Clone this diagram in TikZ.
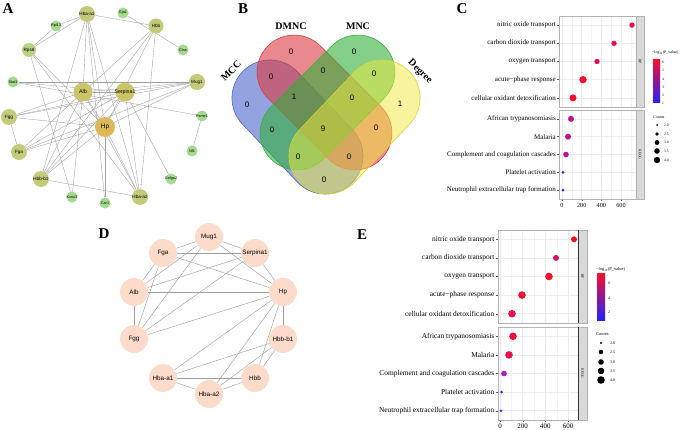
\documentclass[tikz,border=0pt]{standalone}
\usepackage{fontspec}
\setmainfont{Liberation Serif}
\setsansfont{Liberation Sans}
\usetikzlibrary{shapes.misc,backgrounds}

\definecolor{leafgreen}{HTML}{A5DA8E}
\definecolor{olive}{HTML}{C3CB7B}
\definecolor{olivedark}{HTML}{CBC46A}
\definecolor{hpgold}{HTML}{DCB858}
\definecolor{rpsgreen}{HTML}{B9D283}
\definecolor{peach}{HTML}{FCDBCA}
\definecolor{vennblue}{HTML}{4A66CC}
\definecolor{vennred}{HTML}{DB3A42}
\definecolor{venngreen}{HTML}{33B03A}
\definecolor{vennyellow}{HTML}{EFEA3C}
\definecolor{ptred}{HTML}{F80F2C}
\definecolor{ptrose}{HTML}{E8104E}
\definecolor{ptpink}{HTML}{D41068}
\definecolor{ptmag}{HTML}{C0108E}
\definecolor{ptpurple}{HTML}{A41EC4}
\definecolor{ptblue}{HTML}{2222FF}
\definecolor{stripgray}{HTML}{D9D9D9}
\definecolor{gridgray}{HTML}{EBEBEB}
\definecolor{edgegray}{HTML}{A0A0A0}

\begin{document}
\begin{tikzpicture}[x=1pt,y=-1pt,
  panel/.style={font=\fontsize{15}{15}\selectfont\bfseries},
  leaf/.style={circle, inner sep=0pt, minimum size=11pt, fill=leafgreen},
  hub/.style={circle, inner sep=0pt, minimum size=#1pt, fill=olive},
  alab/.style={font=\sffamily\fontsize{4.6}{5}\selectfont, inner sep=0pt},
  slab/.style={font=\sffamily\fontsize{3.8}{4}\selectfont, inner sep=0pt},
  link/.style={draw=edgegray, line width=0.35pt},
  vennset/.style={rounded rectangle, inner sep=0pt, line width=0.6pt, fill opacity=0.6},
  setname/.style={font=\fontsize{10}{10}\selectfont\bfseries},
  vnum/.style={font=\sffamily\fontsize{8}{8}\selectfont},
  dnode/.style={circle, inner sep=0pt, minimum size=28pt, fill=peach, font=\sffamily\fontsize{6.3}{7}\selectfont},
  dlink/.style={draw=gray!75, line width=0.45pt},
  frame/.style={draw=gray!60, line width=0.4pt},
  strip/.style={draw=gray!60, fill=stripgray, line width=0.4pt},
  striplab/.style={font=\fontsize{3.6}{4}\selectfont, rotate=-90, inner sep=0pt},
  gridmaj/.style={draw=gridgray, line width=0.5pt},
  gridmin/.style={draw=gridgray!60, line width=0.3pt},
  rowC/.style={anchor=east, inner sep=0pt, font=\fontsize{7}{8}\selectfont},
  rowE/.style={anchor=east, inner sep=0pt, font=\fontsize{7.4}{8}\selectfont},
  tickC/.style={inner sep=0pt, font=\fontsize{6.2}{7}\selectfont},
  tickE/.style={inner sep=0pt, font=\fontsize{7}{8}\selectfont},
  bubble/.style={circle, inner sep=0pt, minimum size=#1pt, draw=none},
  legtitle/.style={anchor=west, inner sep=0pt, font=\fontsize{4}{4}\selectfont},
  legnum/.style={anchor=west, inner sep=0pt, font=\fontsize{3.6}{4}\selectfont}
]
\useasboundingbox (0,0) rectangle (685,430);

% panel letters
\node[panel] (lab-a) at (8,9) {A};
\node[panel] (lab-b) at (243,9) {B};
\node[panel] (lab-c) at (462,9) {C};
\node[panel] (lab-d) at (104,234) {D};
\node[panel] (lab-e) at (362,235) {E};

% A: PPI network
\node[hub=16, label={[alab]center:Hba-a1}] (a-hbaa1) at (87,14) {};
\node[leaf, label={[slab]center:Gja1}] (a-gja1) at (123,13) {};
\node[hub=15, label={[alab]center:Hbb}] (a-hbb) at (156,26) {};
\node[leaf, label={[slab]center:Ctss}] (a-ctss) at (183,50) {};
\node[leaf, label={[slab]center:Rpl13}] (a-rpl13) at (56,26) {};
\node[hub=14, fill=rpsgreen, label={[alab]center:Rps8}] (a-rps8) at (29,50) {};
\node[leaf, label={[slab]center:Stat1}] (a-stat1) at (13,82) {};
\node[hub=19, fill=olivedark, label={[alab, font=\sffamily\fontsize{5.4}{6}\selectfont]center:Alb}] (a-alb) at (83,92) {};
\node[hub=19, fill=olivedark, label={[alab, font=\sffamily\fontsize{5.2}{6}\selectfont]center:Serpina1}] (a-serpina1) at (125,92) {};
\node[hub=16, label={[alab]center:Mug1}] (a-mug1) at (197,82) {};
\node[hub=16, label={[alab]center:Fgg}] (a-fgg) at (9,117) {};
\node[leaf, label={[slab]center:Psme1}] (a-psme1) at (202,116) {};
\node[hub=20, fill=hpgold, label={[alab, font=\sffamily\fontsize{6.4}{7}\selectfont]center:Hp}] (a-hp) at (105,127) {};
\node[hub=16, label={[alab]center:Fga}] (a-fga) at (19,152) {};
\node[leaf, label={[slab]center:Nf1}] (a-nf1) at (192,151) {};
\node[hub=16, label={[alab]center:Hbb-b1}] (a-hbbb1) at (41,179) {};
\node[leaf, label={[slab]center:Golga2}] (a-golga2) at (171,179) {};
\node[leaf, label={[slab]center:Kcnc3}] (a-kcnc3) at (72,197) {};
\node[leaf, label={[slab]center:Car1}] (a-car1) at (105,203) {};
\node[hub=16, label={[alab]center:Hba-a2}] (a-hbaa2) at (140,197) {};

\begin{scope}[on background layer]
\draw[link] (a-hbaa1) -- (a-rpl13);
\draw[link] (a-hbaa1) -- (a-rps8);
\draw[link] (a-hbaa1) -- (a-hbb);
\draw[link] (a-hbaa1) -- (a-hp);
\draw[link] (a-hbaa1) -- (a-hbbb1);
\draw[link] (a-hbaa1) -- (a-hbaa2);
\draw[link] (a-hbaa1) -- (a-car1);
\draw[link] (a-hbaa1) -- (a-alb);
\draw[link] (a-rpl13) -- (a-rps8);
\draw[link] (a-gja1) -- (a-ctss);
\draw[link] (a-hbb) -- (a-hbaa2);
\draw[link] (a-hbb) -- (a-hbbb1);
\draw[link] (a-hbb) -- (a-hp);
\draw[link] (a-hbb) -- (a-alb);
\draw[link] (a-rps8) -- (a-hp);
\draw[link] (a-rps8) -- (a-kcnc3);
\draw[link] (a-rps8) -- (a-hbaa2);
\draw[link] (a-stat1) -- (a-mug1);
\draw[link] (a-stat1) -- (a-serpina1);
\draw[link] (a-stat1) -- (a-psme1);
\draw[link] (a-alb) -- (a-serpina1);
\draw[link] (a-alb) -- (a-mug1);
\draw[link] (a-alb) -- (a-fgg);
\draw[link] (a-alb) -- (a-fga);
\draw[link] (a-alb) -- (a-hp);
\draw[link] (a-alb) -- (a-hbbb1);
\draw[link] (a-alb) -- (a-hbaa2);
\draw[link] (a-alb) -- (a-kcnc3);
\draw[link] (a-serpina1) -- (a-mug1);
\draw[link] (a-serpina1) -- (a-fgg);
\draw[link] (a-serpina1) -- (a-fga);
\draw[link] (a-serpina1) -- (a-hp);
\draw[link] (a-serpina1) -- (a-hbbb1);
\draw[link] (a-serpina1) -- (a-golga2);
\draw[link] (a-serpina1) -- (a-hbaa2);
\draw[link] (a-mug1) -- (a-fgg);
\draw[link] (a-mug1) -- (a-fga);
\draw[link] (a-mug1) -- (a-hp);
\draw[link] (a-fgg) -- (a-fga);
\draw[link] (a-fgg) -- (a-hp);
\draw[link] (a-fga) -- (a-hp);
\draw[link] (a-hp) -- (a-hbbb1);
\draw[link] (a-hp) -- (a-hbaa2);
\draw[link] (a-hp) -- (a-car1);
\draw[link] (a-hbbb1) -- (a-hbaa2);
\draw[link] (a-psme1) -- (a-nf1);
\end{scope}

% B: Venn diagram
\node[vennset, draw=vennblue, fill=vennblue, minimum width=156pt, minimum height=76pt, rotate=-46.5] (b-mcc) at (297.5,127) {};
\node[vennset, draw=vennred, fill=vennred, minimum width=160pt, minimum height=74pt, rotate=-45] (b-dmnc) at (324.5,102.5) {};
\node[vennset, draw=venngreen, fill=venngreen, minimum width=160pt, minimum height=74pt, rotate=45] (b-mnc) at (327.5,102.5) {};
\node[vennset, draw=vennyellow!90!black, fill=vennyellow, fill opacity=0.5, minimum width=156pt, minimum height=76pt, rotate=46.5] (b-degree) at (354.5,127) {};

\node[setname] (b-t1) at (291,26) {DMNC};
\node[setname] (b-t2) at (358,26) {MNC};
\node[setname, rotate=45] (b-t3) at (231,71) {MCC};
\node[setname, rotate=-45] (b-t4) at (420,72) {Degree};

\node[vnum] (b-n1) at (291,52) {0};
\node[vnum] (b-n2) at (354,52) {0};
\node[vnum] (b-n3) at (271,77) {0};
\node[vnum] (b-n4) at (323,71) {0};
\node[vnum] (b-n5) at (374,74) {0};
\node[vnum] (b-n6) at (247,105) {0};
\node[vnum] (b-n7) at (294,97) {1};
\node[vnum] (b-n8) at (352,98) {0};
\node[vnum] (b-n9) at (400,104) {1};
\node[vnum] (b-n10) at (272,130) {0};
\node[vnum] (b-n11) at (323,129) {9};
\node[vnum] (b-n12) at (376,128) {0};
\node[vnum] (b-n13) at (298,157) {0};
\node[vnum] (b-n14) at (349,157) {0};
\node[vnum] (b-n15) at (324,180) {0};

% C: enrichment dot plot
\fill[white] (559,16) rectangle (636,107);
\fill[white] (559,110) rectangle (636,199);
\foreach \gx in {571.8,591.5,611.2,630.8} {
  \draw[gridmin] (\gx,16) -- (\gx,107);
  \draw[gridmin] (\gx,110) -- (\gx,199);
}
\foreach \gx in {562,581.7,601.3,621} {
  \draw[gridmaj] (\gx,16) -- (\gx,107);
  \draw[gridmaj] (\gx,110) -- (\gx,199);
  \draw[gray!70!black, line width=0.4pt] (\gx,199) -- (\gx,201);
}
\foreach \gy in {25.1,43.3,61.5,79.7,97.9,118.9,136.7,154.5,172.3,190.1} {
  \draw[gridmaj] (559,\gy) -- (636,\gy);
  \draw[gray!70!black, line width=0.4pt] (557,\gy) -- (559,\gy);
}
\draw[frame] (559,16) rectangle (636,107);
\draw[frame] (559,110) rectangle (636,199);
\draw[strip] (636,16) rectangle (644,107);
\draw[strip] (636,110) rectangle (644,199);
\node[striplab] (c-bp) at (640,61.5) {BP};
\node[striplab] (c-kegg) at (640,154.5) {KEGG};

\node[rowC] (c-r1) at (556,25.1) {nitric oxide transport};
\node[rowC] (c-r2) at (556,43.3) {carbon dioxide transport};
\node[rowC] (c-r3) at (556,61.5) {oxygen transport};
\node[rowC] (c-r4) at (556,79.7) {acute−phase response};
\node[rowC] (c-r5) at (556,97.9) {cellular oxidant detoxification};
\node[rowC] (c-r6) at (556,118.9) {African trypanosomiasis};
\node[rowC] (c-r7) at (556,136.7) {Malaria};
\node[rowC] (c-r8) at (556,154.5) {Complement and coagulation cascades};
\node[rowC] (c-r9) at (556,172.3) {Platelet activation};
\node[rowC] (c-r10) at (556,190.1) {Neutrophil extracellular trap formation};

\node[tickC] (c-x0) at (562,205.5) {0};
\node[tickC] (c-x1) at (581.7,205.5) {200};
\node[tickC] (c-x2) at (601.3,205.5) {400};
\node[tickC] (c-x3) at (621,205.5) {600};

\node[bubble=5.4, fill=ptrose] (c-p1) at (632,25.1) {};
\node[bubble=5.4, fill=ptrose] (c-p2) at (614,43.3) {};
\node[bubble=5.4, fill=ptrose] (c-p3) at (597,61.5) {};
\node[bubble=7.4, fill=ptred] (c-p4) at (583,79.7) {};
\node[bubble=7, fill=ptred] (c-p5) at (573,97.9) {};
\node[bubble=6, fill=ptmag] (c-p6) at (571,118.9) {};
\node[bubble=6, fill=ptmag] (c-p7) at (568,136.7) {};
\node[bubble=5.6, fill=ptmag!80!ptpurple] (c-p8) at (566,154.5) {};
\node[bubble=3, fill=ptblue] (c-p9) at (563,172.3) {};
\node[bubble=3, fill=ptblue] (c-p10) at (563,190.1) {};

\node[legtitle] (c-lt) at (652,53) {−log\textsubscript{10}(P\_value)};
\shade[bottom color=ptblue, top color=ptred] (653,60) rectangle (660,103);
\node[legnum] (c-l6) at (662,62) {6};
\node[legnum] (c-l5) at (662,70.5) {5};
\node[legnum] (c-l4) at (662,79) {4};
\node[legnum] (c-l3) at (662,87) {3};
\node[legnum] (c-l2) at (662,95) {2};
\node[legnum] (c-l1) at (662,103) {1};
\node[legtitle] (c-ct) at (653,117) {Counts};
\node[bubble=2, fill=black] (c-s1) at (657,125) {};
\node[bubble=3.8, fill=black] (c-s2) at (657,134) {};
\node[bubble=4.8, fill=black] (c-s3) at (657,142.5) {};
\node[bubble=5.6, fill=black] (c-s4) at (657,151) {};
\node[bubble=6.4, fill=black] (c-s5) at (657,160) {};
\node[legnum] (c-sl1) at (664,125) {2.0};
\node[legnum] (c-sl2) at (664,134) {2.5};
\node[legnum] (c-sl3) at (664,142.5) {3.0};
\node[legnum] (c-sl4) at (664,151) {3.5};
\node[legnum] (c-sl5) at (664,160) {4.0};

% D: hub genes
\node[dnode] (d-mug1) at (209,237) {Mug1};
\node[dnode] (d-fga) at (163,253) {Fga};
\node[dnode] (d-serpina1) at (255,253) {Serpina1};
\node[dnode] (d-alb) at (134,292) {Alb};
\node[dnode] (d-hp) at (283,292) {Hp};
\node[dnode] (d-fgg) at (134,339) {Fgg};
\node[dnode] (d-hbbb1) at (283,339) {Hbb-b1};
\node[dnode] (d-hbaa1) at (163,378) {Hba-a1};
\node[dnode] (d-hbb) at (255,378) {Hbb};
\node[dnode] (d-hbaa2) at (209,394) {Hba-a2};

\begin{scope}[on background layer]
\draw[dlink] (d-fga) -- (d-mug1);
\draw[dlink] (d-fga) -- (d-serpina1);
\draw[dlink] (d-fga) -- (d-hp);
\draw[dlink] (d-fga) -- (d-alb);
\draw[dlink] (d-fga) -- (d-fgg);
\draw[dlink] (d-mug1) -- (d-serpina1);
\draw[dlink] (d-mug1) -- (d-hp);
\draw[dlink] (d-mug1) -- (d-alb);
\draw[dlink] (d-mug1) -- (d-fgg);
\draw[dlink] (d-serpina1) -- (d-alb);
\draw[dlink] (d-serpina1) -- (d-fgg);
\draw[dlink] (d-serpina1) -- (d-hp);
\draw[dlink] (d-alb) -- (d-hp);
\draw[dlink] (d-alb) -- (d-fgg);
\draw[dlink] (d-hp) -- (d-fgg);
\draw[dlink] (d-hp) -- (d-hbbb1);
\draw[dlink] (d-hp) -- (d-hbaa1);
\draw[dlink] (d-hp) -- (d-hbaa2);
\draw[dlink] (d-hp) -- (d-hbb);
\draw[dlink] (d-hbbb1) -- (d-hbaa1);
\draw[dlink] (d-hbbb1) -- (d-hbaa2);
\draw[dlink] (d-hbbb1) -- (d-hbb);
\draw[dlink] (d-hbaa1) -- (d-hbaa2);
\draw[dlink] (d-hbaa1) -- (d-hbb);
\draw[dlink] (d-hbaa2) -- (d-hbb);
\end{scope}

% E: enrichment dot plot of hub genes
\fill[white] (498,230) rectangle (578,323);
\fill[white] (498,327) rectangle (578,420);
\foreach \gx in {511.3,534,556.7} {
  \draw[gridmin] (\gx,230) -- (\gx,323);
  \draw[gridmin] (\gx,327) -- (\gx,420);
}
\foreach \gx in {500,522.7,545.3,568} {
  \draw[gridmaj] (\gx,230) -- (\gx,323);
  \draw[gridmaj] (\gx,327) -- (\gx,420);
  \draw[gray!70!black, line width=0.4pt] (\gx,420) -- (\gx,422);
}
\foreach \gy in {239.3,257.9,276.5,295.1,313.7,336.3,354.9,373.5,392.1,410.7} {
  \draw[gridmaj] (498,\gy) -- (578,\gy);
  \draw[gray!70!black, line width=0.4pt] (495.5,\gy) -- (498,\gy);
}
\draw[frame] (498,230) rectangle (578,323);
\draw[frame] (498,327) rectangle (578,420);
\draw[strip] (578,230) rectangle (587,323);
\draw[strip] (578,327) rectangle (587,420);
\draw[black!80, line width=0.5pt] (578,230) -- (578,323);
\draw[black!80, line width=0.5pt] (578,327) -- (578,420);
\node[striplab] (e-bp) at (582.5,276.5) {BP};
\node[striplab] (e-kegg) at (582.5,373.5) {KEGG};

\node[rowE] (e-r1) at (494.5,239.3) {nitric oxide transport};
\node[rowE] (e-r2) at (494.5,257.9) {carbon dioxide transport};
\node[rowE] (e-r3) at (494.5,276.5) {oxygen transport};
\node[rowE] (e-r4) at (494.5,295.1) {acute−phase response};
\node[rowE] (e-r5) at (494.5,313.7) {cellular oxidant detoxification};
\node[rowE] (e-r6) at (494.5,336.3) {African trypanosomiasis};
\node[rowE] (e-r7) at (494.5,354.9) {Malaria};
\node[rowE] (e-r8) at (494.5,373.5) {Complement and coagulation cascades};
\node[rowE] (e-r9) at (494.5,392.1) {Platelet activation};
\node[rowE] (e-r10) at (494.5,410.7) {Neutrophil extracellular trap formation};

\node[tickE] (e-x0) at (500,426.5) {0};
\node[tickE] (e-x1) at (522.7,426.5) {200};
\node[tickE] (e-x2) at (545.3,426.5) {400};
\node[tickE] (e-x3) at (568,426.5) {600};

\node[bubble=6, fill=ptred] (e-p1) at (574,239.3) {};
\node[bubble=6, fill=ptpink] (e-p2) at (556,257.9) {};
\node[bubble=7.6, fill=ptred] (e-p3) at (549,276.5) {};
\node[bubble=7.6, fill=ptred!80!ptrose] (e-p4) at (522,295.1) {};
\node[bubble=7.6, fill=ptrose] (e-p5) at (512,313.7) {};
\node[bubble=7.6, fill=ptred!70!ptrose] (e-p6) at (513,336.3) {};
\node[bubble=7.6, fill=ptrose] (e-p7) at (509,354.9) {};
\node[bubble=5.6, fill=ptpurple] (e-p8) at (504,373.5) {};
\node[bubble=2.8, fill=ptblue] (e-p9) at (501.5,392.1) {};
\node[bubble=2.8, fill=ptblue] (e-p10) at (501,410.7) {};

\node[legtitle, font=\fontsize{4.4}{5}\selectfont] (e-lt) at (596,269) {−log\textsubscript{10}(P\_value)};
\shade[bottom color=ptblue, top color=ptred] (597,274) rectangle (605,320);
\node[legnum, font=\fontsize{4}{4}\selectfont] (e-l6) at (608,283) {6};
\node[legnum, font=\fontsize{4}{4}\selectfont] (e-l4) at (608,298) {4};
\node[legnum, font=\fontsize{4}{4}\selectfont] (e-l2) at (608,312) {2};
\node[legtitle, font=\fontsize{4.4}{5}\selectfont] (e-ct) at (596,334) {Counts};
\node[bubble=2.4, fill=black] (e-s1) at (601,343) {};
\node[bubble=4.6, fill=black] (e-s2) at (601,352) {};
\node[bubble=5.6, fill=black] (e-s3) at (601,362) {};
\node[bubble=6.6, fill=black] (e-s4) at (601,371) {};
\node[bubble=7.6, fill=black] (e-s5) at (601,380) {};
\node[legnum, font=\fontsize{4}{4}\selectfont] (e-sl1) at (610,343) {2.0};
\node[legnum, font=\fontsize{4}{4}\selectfont] (e-sl2) at (610,352) {2.5};
\node[legnum, font=\fontsize{4}{4}\selectfont] (e-sl3) at (610,362) {3.0};
\node[legnum, font=\fontsize{4}{4}\selectfont] (e-sl4) at (610,371) {3.5};
\node[legnum, font=\fontsize{4}{4}\selectfont] (e-sl5) at (610,380) {4.0};

\end{tikzpicture}
\end{document}
